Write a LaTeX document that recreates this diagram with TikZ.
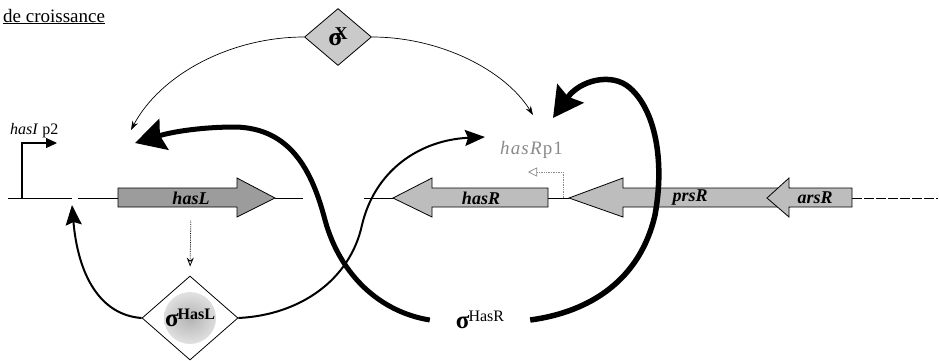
\documentclass[tikz,border=0pt]{standalone}
\usepackage{fontspec}
\setmainfont{Liberation Serif}
\usepackage{tikz}
\usetikzlibrary{
  arrows.meta,
  shapes.geometric,
  positioning,
  calc
}
\definecolor{hsGene}{HTML}{9C9C9C}
\definecolor{hsLight}{HTML}{BDBDBD}
\definecolor{hsProm}{HTML}{8A8A8A}
\newcommand{\sigmark}[1]{{\fontsize{25}{25}\selectfont\bfseries σ}\kern-1pt\raisebox{7pt}{\fontsize{16}{16}\selectfont #1}}
\tikzset{
  dnaline/.style={line width=0.8pt, black},
  dnadash/.style={dnaline, dash pattern=on 10pt off 2pt},
  gene/.style={draw, line width=0.8pt},
  genelabel/.style={font=\fontsize{18}{18}\selectfont\bfseries\itshape, inner sep=0pt},
  sigbox/.style={draw, diamond, line width=0.8pt, inner sep=0pt},
  regthin/.style={-{Stealth[length=9pt,width=6pt]}, line width=0.7pt},
  regmid/.style={-{Stealth[length=20pt,width=16pt,inset=3pt]}, line width=2pt},
  regthick/.style={-{Stealth[length=30pt,width=32pt,inset=4pt]}, line width=5pt},
  transl/.style={densely dotted, line width=0.8pt, -{Stealth[open,length=9pt,width=7pt,inset=3pt]}},
  promoter/.style={line width=1.2pt, -{Triangle[length=11pt,width=10pt]}},
  promweak/.style={densely dotted, line width=0.7pt, hsProm, -{Triangle[open,length=9pt,width=9pt]}},
  promtag/.style={inner sep=0pt, anchor=base west}
}
\begin{document}
\begin{tikzpicture}[x=1pt, y=-1pt]
  \useasboundingbox (0,0) rectangle (939,360);
  \node[promtag, font=\fontsize{19}{19}\selectfont] (title) at (3,22) {\underline{de croissance}};
  % DNA
  \draw[dnaline] (8,198) -- (72,198) (78,198) -- (118,198);
  \draw[dnaline] (275,198) -- (303,198);
  \draw[dnaline] (364,198) -- (398,198);
  \draw[dnaline] (548,198) -- (569,198);
  \draw[dnadash] (852,198) -- (938,198);
  % genes
  \foreach \s/\b/\t/\lx/\id/\col in {
    118/237/275/191/hasL/hsGene,
    548/432/393/481/hasR/hsLight,
    790/623/569/690/prsR/hsLight,
    852/789/767/815/arsR/hsLight}{
    \draw[gene, fill=\col] (\s,188) -- (\b,188) -- (\b,178) -- (\t,198) -- (\b,217) -- (\b,207) -- (\s,207) -- cycle;
    \node[genelabel] (\id) at (\lx,198) {\id};
  }
  % promoters
  \coordinate (p2) at (22,198);
  \draw[promoter] (p2) |- (57,143);
  \node[promtag, font=\fontsize{16}{16}\selectfont] (p2tag) at (10,134) {\textit{hasI} p2};
  \coordinate (p1) at (563,198);
  \draw[promweak] (p1) |- (528,172);
  \node[promtag, font=\fontsize{19}{19}\selectfont\addfontfeatures{LetterSpace=6}, text=hsProm] (p1tag) at (500,154) {\textit{hasR}p1};
  % sigma factors
  \node[sigbox, fill=hsLight!80, minimum width=67pt, minimum height=57pt] (sigX) at (338,37)
    {{\fontsize{26}{26}\selectfont\bfseries σ}\kern-8pt\raisebox{6pt}{\fontsize{18}{18}\selectfont\bfseries X}};
  \node[sigbox, fill=white, minimum width=96pt, minimum height=84pt,
    path picture={\shade[inner color=black!30, outer color=white] (path picture bounding box.center) circle (26pt);}] (sigL) at (190,318)
    {\sigmark{\bfseries HasL}};
  \node[inner sep=0pt, minimum width=100pt, minimum height=8pt] (sigR) at (480,320) {\sigmark{HasR}};
  % targets
  \coordinate (tipL) at (131,130);
  \coordinate (tipR) at (533,115);
  \coordinate (bigL) at (135,143);
  \coordinate (bigR) at (553,118);
  \coordinate (midR) at (485,137);
  \coordinate (midL) at (72,205);
  % regulation
  \draw[regthin] (sigX.west) .. controls (230,37) and (160,75) .. (tipL);
  \draw[regthin] (sigX.east) .. controls (440,37) and (505,70) .. (tipR);
  \draw[regthick] (sigR.west) .. controls (380,312) and (340,275) .. (325,220)
    .. controls (312,170) and (290,128) .. (235,127) .. controls (205,127) and (175,131) .. (bigL);
  \draw[regthick, line width=5.5pt] (sigR.east) .. controls (590,312) and (640,280) .. (655,215)
    .. controls (665,160) and (655,110) .. (630,88) .. controls (612,72) and (580,80) .. (bigR);
  \draw[regmid] (sigL.east) .. controls (300,315) and (350,280) .. (362,225)
    .. controls (375,170) and (420,140) .. (midR);
  \draw[regmid] (sigL.west) .. controls (100,315) and (78,275) .. (midL);
  \draw[transl, shorten <=16pt, shorten >=9pt] (hasL.south) -- (sigL.north);
\end{tikzpicture}
\end{document}
